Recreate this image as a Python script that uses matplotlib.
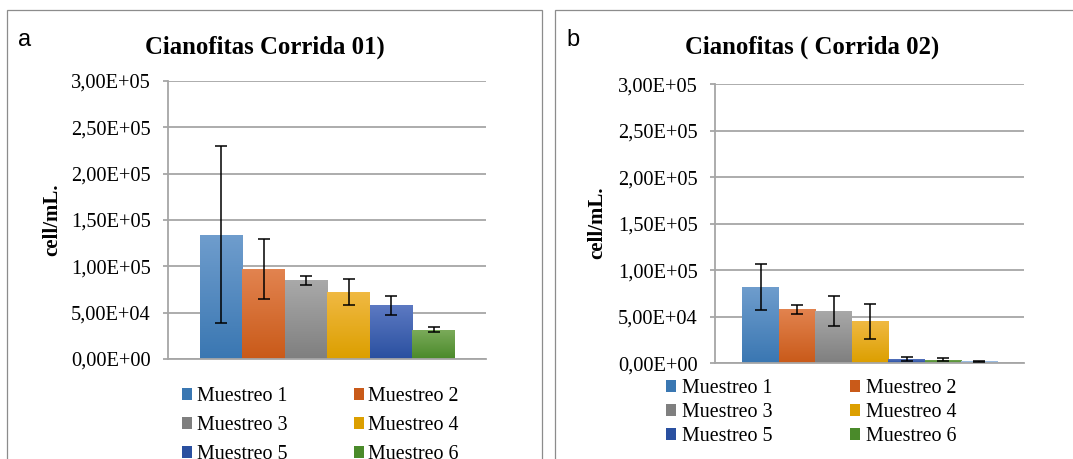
import numpy as np
import matplotlib
matplotlib.use('Agg')
import matplotlib.pyplot as plt
from matplotlib.colors import LinearSegmentedColormap
from matplotlib.patches import Rectangle

plt.rcParams['font.family'] = ['Liberation Serif', 'DejaVu Serif']

# %% data
labels = ['Muestreo 1', 'Muestreo 2', 'Muestreo 3',
          'Muestreo 4', 'Muestreo 5', 'Muestreo 6', 'Muestreo 7']
run1_vals = [1.34e5, 9.7e4, 8.5e4, 7.2e4, 5.8e4, 3.15e4]
run1_err = [9.55e4, 3.25e4, 5.0e3, 1.4e4, 1.05e4, 2.5e3]
run2_vals = [8.2e4, 5.8e4, 5.6e4, 4.5e4, 4.5e3, 4.0e3, 2.3e3]
run2_err = [2.5e4, 5.0e3, 1.6e4, 1.9e4, 2.2e3, 1.2e3, 5.0e2]
yticks = [0, 5e4, 1e5, 1.5e5, 2e5, 2.5e5, 3e5]
ytick_labels = ['0,00E+00', '5,00E+04', '1,00E+05', '1,50E+05',
                '2,00E+05', '2,50E+05', '3,00E+05']

# top / bottom colour of each bar's gradient
bar_top = ['#6f9dcd', '#e2834f', '#a9a9a9', '#f0b942', '#5c79c2', '#7cab5b', '#aac6e6']
bar_bot = ['#3a77b2', '#c95a19', '#7f7f7f', '#dc9f00', '#2a50a0', '#4a8a2a', '#8bb1dc']

W, H = 1073, 459
fig = plt.figure(figsize=(W / 100, H / 100), dpi=100)
fig.patch.set_facecolor('white')
leg_font = {'family': 'Liberation Serif', 'size': 14.4}


def px_axes(x0, y0, x1, y1):
    return fig.add_axes([x0 / W, 1 - y1 / H, (x1 - x0) / W, (y1 - y0) / H])


def draw_panel(ax, vals, errs, xlim):
    n = len(vals)
    x = np.arange(n)
    bars = ax.bar(x, vals, width=1.0, color=bar_bot[:n], zorder=2)
    for i, b in enumerate(bars):
        cmap = LinearSegmentedColormap.from_list('g', [bar_bot[i], bar_top[i]])
        grad = np.linspace(0, 1, 64).reshape(-1, 1)
        im = ax.imshow(grad, extent=[b.get_x(), b.get_x() + b.get_width(), 0, b.get_height()],
                       origin='lower', aspect='auto', cmap=cmap, zorder=2.5)
        im.set_clip_path(b)
    ax.errorbar(x, vals, yerr=errs, fmt='none', ecolor='black',
                elinewidth=1.1, capsize=4.5, capthick=1.1, zorder=4)
    ax.set_xlim(*xlim)
    ax.set_ylim(0, 3e5)
    ax.set_yticks(yticks)
    ax.set_yticklabels(ytick_labels, fontsize=14.7)
    ax.set_xticks([])
    ax.grid(axis='y', color='#a6a6a6', lw=1.3, zorder=0)
    ax.set_axisbelow(True)
    for s in ['top', 'right']:
        ax.spines[s].set_visible(False)
    ax.spines['left'].set_color('#a6a6a6')
    ax.spines['left'].set_linewidth(1.3)
    ax.spines['bottom'].set_color('#a6a6a6')
    ax.spines['bottom'].set_linewidth(1.3)
    ax.tick_params(axis='y', length=3.6, color='#a6a6a6', width=1.3, pad=9)
    return bars


order = [0, 2, 4, 1, 3, 5]  # legend fills row by row

# %% panel a
ax1 = px_axes(168, 81, 486, 359)
bars1 = draw_panel(ax1, run1_vals, run1_err, (-1.253, 6.23))
fig.text(52 / W, 1 - 220 / H, 'cell/mL.', rotation=90, ha='center', va='center',
         fontsize=15, fontweight='bold')
fig.text(265 / W, 1 - 47 / H, 'Cianofitas Corrida 01)', ha='center', va='center',
         fontsize=17.8, fontweight='bold')
fig.text(25 / W, 1 - 40 / H, 'a', ha='center', va='center', fontsize=17,
         family='Liberation Sans')
fig.legend([bars1[i] for i in order], [labels[i] for i in order], ncol=2,
           frameon=False, prop=leg_font,
           loc='upper left', bbox_to_anchor=(182 / W, 1 - 387 / H),
           borderpad=0, borderaxespad=0, handlelength=0.5, handleheight=0.5,
           handletextpad=0.25, columnspacing=3.3, labelspacing=0.5)

# %% panel b
ax2 = px_axes(715, 84.3, 1024, 363.3)
bars2 = draw_panel(ax2, run2_vals, run2_err, (-1.248, 7.22))
fig.text(597 / W, 1 - 223 / H, 'cell/mL.', rotation=90, ha='center', va='center',
         fontsize=15, fontweight='bold')
fig.text(812 / W, 1 - 47 / H, 'Cianofitas ( Corrida 02)', ha='center', va='center',
         fontsize=17.8, fontweight='bold')
fig.text(573 / W, 1 - 40 / H, 'b', ha='center', va='center', fontsize=17,
         family='Liberation Sans')
fig.legend([bars2[i] for i in order], [labels[i] for i in order], ncol=2,
           frameon=False, prop=leg_font,
           loc='upper left', bbox_to_anchor=(666 / W, 1 - 379 / H),
           borderpad=0, borderaxespad=0, handlelength=0.5, handleheight=0.5,
           handletextpad=0.3, columnspacing=3.85, labelspacing=0.25)

# %% panel frames
for x0, x1 in [(7, 542), (555, 1080)]:
    fig.add_artist(Rectangle((x0 / W, -0.1), (x1 - x0) / W, 1 - 10 / H + 0.1,
                             transform=fig.transFigure, fill=False,
                             edgecolor='#8c8c8c', lw=0.9))

fig.savefig('out.png', dpi=100, facecolor='white')
